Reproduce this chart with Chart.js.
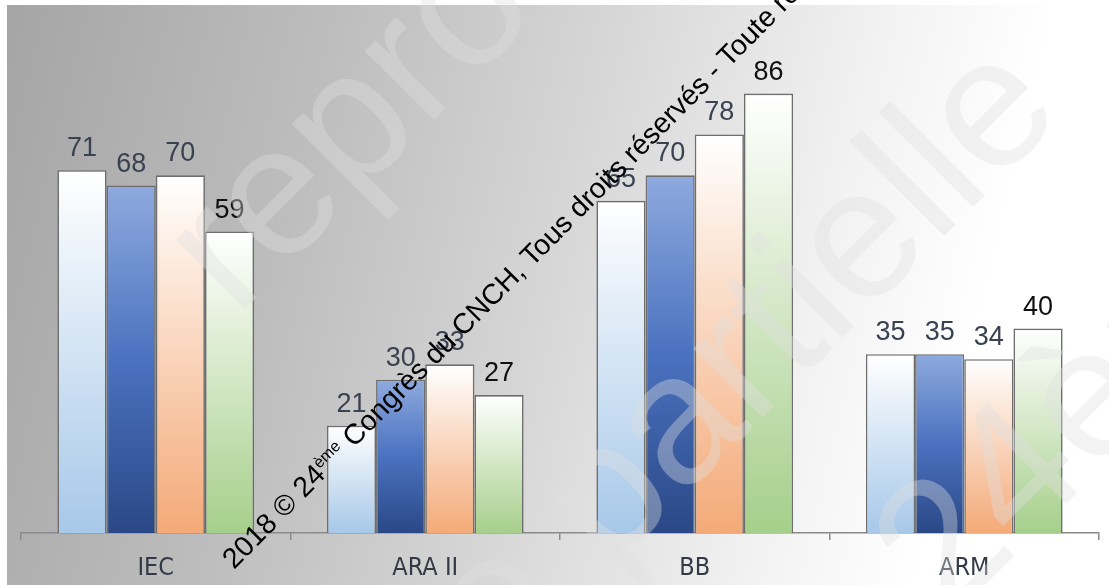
<!DOCTYPE html>
<html>
<head>
<meta charset="utf-8">
<script src="https://cdn.jsdelivr.net/npm/chart.js@4.4.1/dist/chart.umd.min.js"></script>
<style>
  html, body { margin: 0; padding: 0; background: #ffffff; }
  #wrap { width: 1109px; height: 585px; position: relative; }
  canvas { display: block; }
</style>
</head>
<body>
<div id="wrap"><canvas id="chart" width="1109" height="585"></canvas></div>
<script>
// Categories and the four series (percentages)
const categories = ['IEC', 'ARA II', 'BB', 'ARM'];
const serie1 = [71, 21, 65, 35];
const serie2 = [68, 30, 70, 35];
const serie3 = [70, 33, 78, 34];
const serie4 = [59, 27, 86, 40];
const yMin = 0;
const yMax = 100;

// Copyright line and faint background watermark
const copyrightBefore = '2018 © 24';
const copyrightSup = 'ème';
const copyrightAfter = ' Congrès du CNCH, Tous droits réservés - Toute reproduction même partielle interdite';
const watermarkLines = ['reproduction', 'même partielle', '24ème Congrès'];

// Vertical gradient per bar, from the bar top down to the baseline
function barGradient(stops) {
  return (ctx) => {
    const chart = ctx.chart;
    if (ctx.type !== 'data' || !chart.chartArea) return stops[stops.length - 1][1];
    const y = chart.scales.y;
    const top = y.getPixelForValue(ctx.raw);
    const base = y.getPixelForValue(0);
    const g = chart.ctx.createLinearGradient(0, top, 0, base);
    stops.forEach(([o, c]) => g.addColorStop(o, c));
    return g;
  };
}

const palette = [
  { stops: [[0, '#ffffff'], [1, '#a7c8e9']], label: '#3a4150' },
  { stops: [[0, '#8eaade'], [0.5, '#4b72c0'], [1, '#2a4886']], label: '#3a4150' },
  { stops: [[0, '#ffffff'], [1, '#f4aa78']], label: '#3a4150' },
  { stops: [[0, '#ffffff'], [1, '#a6cf8b']], label: '#111111' }
];

const seriesValues = [serie1, serie2, serie3, serie4];

const datasets = seriesValues.map((vals, i) => ({
  label: 'Série ' + (i + 1),
  data: vals,
  backgroundColor: barGradient(palette[i].stops),
  borderColor: '#6e6e6e',
  borderWidth: 1.6,
  borderSkipped: 'bottom',
  categoryPercentage: 0.73,
  barPercentage: 1.0,
  labelColor: palette[i].label
}));

// Grey-to-white backdrop
const backdrop = {
  id: 'backdrop',
  beforeDraw(chart) {
    const c = chart.ctx;
    c.save();
    c.fillStyle = '#ffffff';
    c.fillRect(0, 0, chart.width, chart.height);
    const g = c.createLinearGradient(7, 0, 1050, 250);
    g.addColorStop(0, '#a5a5a5');
    g.addColorStop(0.3, '#bdbdbd');
    g.addColorStop(0.55, '#d6d6d6');
    g.addColorStop(0.8, '#f2f2f2');
    g.addColorStop(0.95, '#ffffff');
    c.fillStyle = g;
    c.fillRect(7, 5, chart.width - 7, chart.height - 5);
    c.restore();
  }
};

// Value above each bar
const valueLabels = {
  id: 'valueLabels',
  afterDatasetsDraw(chart) {
    const c = chart.ctx;
    c.save();
    c.font = '27px "Liberation Sans", Arial, sans-serif';
    c.textAlign = 'center';
    c.textBaseline = 'alphabetic';
    chart.data.datasets.forEach((ds, di) => {
      const meta = chart.getDatasetMeta(di);
      c.fillStyle = ds.labelColor;
      meta.data.forEach((bar, i) => {
        c.fillText(String(ds.data[i]), bar.x, bar.y - 14);
      });
    });
    c.restore();
  }
};

// Faint diagonal watermark and the black copyright line
const overlay = {
  id: 'overlay',
  afterDraw(chart) {
    const c = chart.ctx;
    c.save();
    c.font = '185px "Liberation Sans", Arial, sans-serif';
    c.fillStyle = 'rgba(224,224,224,0.38)';
    c.textBaseline = 'alphabetic';
    const starts = [[236, 318, 0], [608, 572, 1], [948, 622, 0]];
    watermarkLines.forEach((txt, i) => {
      c.save();
      c.translate(starts[i][0], starts[i][1]);
      c.rotate(-Math.PI / 4);
      let offset = 0;
      if (starts[i][2]) offset = c.measureText('même ').width;
      c.fillText(txt, -offset, 0);
      c.restore();
    });
    c.restore();

    c.save();
    c.translate(234, 570);
    c.rotate(-45.4 * Math.PI / 180);
    c.fillStyle = '#000000';
    c.textBaseline = 'alphabetic';
    c.font = '28.5px "Liberation Sans", Arial, sans-serif';
    c.fillText(copyrightBefore, 0, 0);
    let x = c.measureText(copyrightBefore).width;
    c.font = '16px "Liberation Sans", Arial, sans-serif';
    c.fillText(copyrightSup, x, -10);
    x += c.measureText(copyrightSup).width;
    c.font = '28.5px "Liberation Sans", Arial, sans-serif';
    c.fillText(copyrightAfter, x, 0);
    c.restore();
  }
};

new Chart(document.getElementById('chart'), {
  type: 'bar',
  data: { labels: categories, datasets },
  plugins: [backdrop, valueLabels, overlay],
  options: {
    responsive: false,
    animation: false,
    devicePixelRatio: 1,
    layout: { padding: { left: 21, right: 10, top: 22, bottom: 0 } },
    plugins: {
      legend: { display: false },
      tooltip: { enabled: false },
      title: { display: false }
    },
    scales: {
      x: {
        afterFit(scale) { scale.height = 52; },
        grid: {
          display: true,
          offset: true,
          drawOnChartArea: false,
          drawTicks: true,
          tickLength: 7,
          color: '#8a8a8a',
          lineWidth: 1.5
        },
        border: { display: true, color: '#8a8a8a', width: 1.5 },
        ticks: {
          padding: 13,
          color: '#333a46',
          font: { family: '"Liberation Sans Narrow", "Arial Narrow", "DejaVu Sans Condensed", sans-serif', size: 25 }
        }
      },
      y: {
        display: false,
        min: yMin,
        max: yMax
      }
    }
  }
});
</script>
</body>
</html>
